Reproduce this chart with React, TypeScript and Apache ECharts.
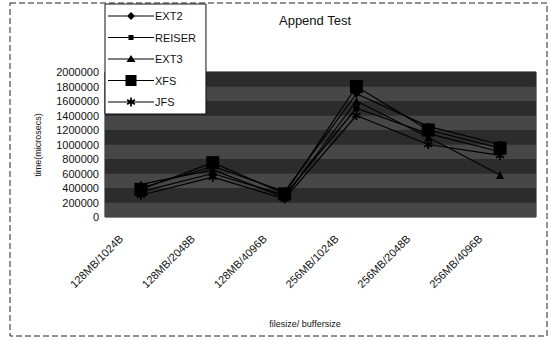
import React, { useEffect, useRef } from "react";
import * as echarts from "echarts";

const categories = ["128MB/1024B", "128MB/2048B", "128MB/4096B", "256MB/1024B", "256MB/2048B", "256MB/4096B"];
const ext2 = [400000, 700000, 350000, 1700000, 1250000, 1000000];
const reiser = [350000, 600000, 300000, 1500000, 1150000, 900000];
const ext3 = [450000, 650000, 270000, 1600000, 1100000, 580000];
const xfs = [380000, 750000, 320000, 1800000, 1200000, 950000];
const jfs = [300000, 550000, 250000, 1400000, 1000000, 850000];
const yTicks = [0, 2000000, 200000];

const asteriskPts: number[][] = [
  [4, 0], [6, 0], [6, 3.3], [8.9, 1.6], [9.9, 3.3], [7, 5], [9.9, 6.7], [8.9, 8.4], [6, 6.7],
  [6, 10], [4, 10], [4, 6.7], [1.1, 8.4], [0.1, 6.7], [3, 5], [0.1, 3.3], [1.1, 1.6], [4, 3.3],
];
const poly = (pts: number[][], dx: number, dy: number, s: number) =>
  "M" + pts.map((p) => `${(p[0] * s + dx).toFixed(2)},${(p[1] * s + dy).toFixed(2)}`).join(" L") + " Z";
const asterisk = "path://" + poly(asteriskPts, 0, 0, 1);

// legend icons: 46 x 12 box with a thin line and the marker in the middle
const frame = "M0,0 L0.01,0 L0,0.01 Z M46,12 L45.99,12 L46,11.99 Z ";
const lineBar = "M0,5.5 L46,5.5 L46,6.5 L0,6.5 Z ";
const legendIcons: Record<string, string> = {
  EXT2: "path://" + frame + lineBar + "M23,2 L27,6 L23,10 L19,6 Z",
  REISER: "path://" + frame + lineBar + "M20.5,3.5 L25.5,3.5 L25.5,8.5 L20.5,8.5 Z",
  EXT3: "path://" + frame + lineBar + "M23,2 L27.5,9 L18.5,9 Z",
  XFS: "path://" + frame + lineBar + "M17.5,0.5 L28.5,0.5 L28.5,11.5 L17.5,11.5 Z",
  JFS: "path://" + frame + lineBar + poly(asteriskPts, 18.6, 1.6, 0.88),
};
const legendNames = ["EXT2", "REISER", "EXT3", "XFS", "JFS"];

export default function App() {
  const ref = useRef<HTMLDivElement>(null);
  useEffect(() => {
    document.body.style.margin = "0";
    const chart = echarts.init(ref.current!, null, { renderer: "svg" });
    const font = "Liberation Sans, Arial, sans-serif";
    const mk = (name: string, data: number[], symbol: string, size: number) => ({
      name,
      type: "line",
      data,
      symbol,
      symbolSize: size,
      lineStyle: { color: "#000", width: 1.2 },
      itemStyle: { color: "#000" },
    });
    chart.setOption({
      animation: false,
      backgroundColor: "#fff",
      color: ["#000"],
      textStyle: { fontFamily: font },
      title: {
        text: "Append Test",
        left: 310,
        top: 9,
        textAlign: "center",
        textStyle: { fontSize: 13, fontWeight: "normal", color: "#111", fontFamily: font },
      },
      legend: {
        orient: "vertical",
        left: 105,
        top: 4,
        width: 97,
        height: 107,
        padding: [6, 10, 6, 3],
        itemGap: 9.5,
        itemWidth: 46,
        itemHeight: 12,
        symbolKeepAspect: false,
        backgroundColor: "#fff",
        borderColor: "#111",
        borderWidth: 1,
        itemStyle: { borderWidth: 0, color: "#000" },
        textStyle: { fontSize: 11, color: "#111", fontFamily: font, padding: [0, 0, 0, -4] },
        data: legendNames.map((n) => ({ name: n, icon: legendIcons[n] })),
      },
      grid: {
        left: 105,
        right: 15,
        top: 72,
        bottom: 123,
        show: true,
        backgroundColor: "#2e2e2e",
        borderColor: "#111",
        borderWidth: 1,
      },
      xAxis: {
        type: "category",
        data: categories,
        boundaryGap: true,
        axisLine: { show: false },
        axisTick: { show: false },
        axisLabel: {
          rotate: 45,
          fontSize: 11,
          color: "#111",
          margin: 0,
          padding: [0, 28, 0, 0],
          fontFamily: font,
        },
      },
      yAxis: {
        type: "value",
        min: yTicks[0],
        max: yTicks[1],
        interval: yTicks[2],
        axisLine: { show: false },
        axisTick: { show: false },
        splitLine: { show: false },
        splitArea: { show: true, areaStyle: { color: ["#474747", "#2c2c2c"] } },
        axisLabel: {
          fontSize: 11,
          color: "#111",
          margin: 6,
          fontFamily: font,
          formatter: (v: number) => String(v),
        },
      },
      graphic: [
        {
          type: "rect",
          shape: { x: 10, y: 3, width: 537, height: 333 },
          style: { fill: "none", stroke: "#222", lineWidth: 1, lineDash: [6, 3] },
          silent: true,
          z: -1,
        },
        {
          type: "text",
          x: 38,
          y: 145,
          rotation: Math.PI / 2,
          style: {
            text: "time(microsecs)",
            fontSize: 9,
            fill: "#111",
            fontFamily: font,
            align: "center",
            verticalAlign: "middle",
          },
        },
        {
          type: "text",
          x: 305,
          y: 324,
          style: {
            text: "filesize/ buffersize",
            fontSize: 9,
            fill: "#111",
            fontFamily: font,
            align: "center",
            verticalAlign: "middle",
          },
        },
      ],
      series: [
        mk("EXT2", ext2, "diamond", 8),
        mk("REISER", reiser, "rect", 6),
        mk("EXT3", ext3, "triangle", 8),
        mk("XFS", xfs, "rect", 13),
        mk("JFS", jfs, asterisk, 9),
      ],
    });
    return () => chart.dispose();
  }, []);
  return <div ref={ref} style={{ width: 551, height: 340 }} />;
}
